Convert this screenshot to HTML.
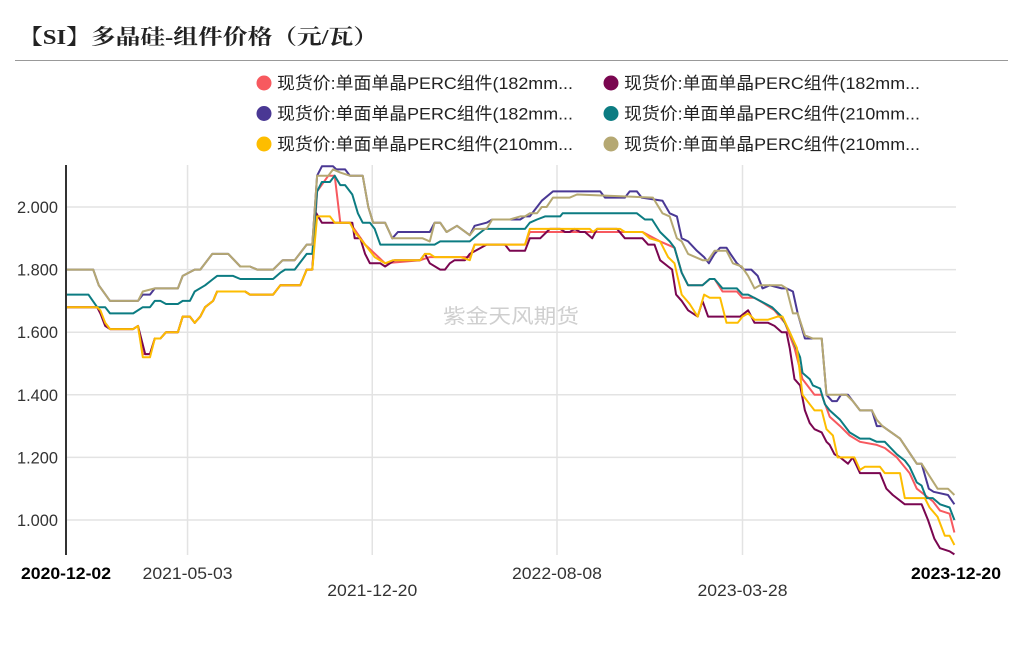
<!DOCTYPE html>
<html><head><meta charset="utf-8">
<style>
body{margin:0;background:#fff;width:1023px;height:645px;overflow:hidden;font-family:"Liberation Sans","Noto Sans CJK SC",sans-serif;}
.rule{position:absolute;left:15px;top:60px;width:993px;height:1px;background:#999;}
</style></head><body>
<div class="rule"></div>
<svg id="chart" width="1023" height="645" style="position:absolute;left:0;top:0">
<text x="18" y="44" font-size="21" font-weight="bold" fill="#222" textLength="360" lengthAdjust="spacingAndGlyphs" font-family="Liberation Serif, Noto Serif CJK SC, serif">【SI】多晶硅-组件价格（元/瓦）</text>
</svg>
<script>
const startDate = "2020-12-02";
const yTicks = [1.0, 1.2, 1.4, 1.6, 1.8, 2.0];
const xTickLabels = ["2020-12-02","2021-05-03","2021-12-20","2022-08-08","2023-03-28","2023-12-20"];
const seriesNames = ["现货价:单面单晶PERC组件(182mm...","现货价:单面单晶PERC组件(182mm...","现货价:单面单晶PERC组件(182mm...","现货价:单面单晶PERC组件(210mm...","现货价:单面单晶PERC组件(210mm...","现货价:单面单晶PERC组件(210mm..."];
const seriesColors = ["#f7595f","#7a0650","#4a3894","#0c7c82","#fdbd00","#b5a872"];
const redDays = [0,39,49,55,84,90,96,105,111,118,125,140,146,155,161,168,174,184,189,224,230,259,268,293,301,308,314,328,336,343,355,374,399,443,455,505,511,574,580,721,743,761,770,778,796,805,811,821,839,846,861,874,886,899,911,921,930,936,945,955,968,980,993,1014,1024,1039,1055,1064,1074,1084,1093,1105,1111];
const redVals = [1.68,1.68,1.63,1.61,1.61,1.62,1.53,1.53,1.58,1.58,1.60,1.60,1.65,1.65,1.63,1.65,1.68,1.70,1.73,1.73,1.72,1.72,1.75,1.75,1.80,1.80,2.05,2.10,2.10,1.95,1.95,1.88,1.82,1.83,1.84,1.84,1.88,1.88,1.92,1.92,1.89,1.87,1.79,1.75,1.75,1.77,1.77,1.73,1.73,1.71,1.71,1.69,1.67,1.63,1.55,1.45,1.42,1.40,1.40,1.33,1.30,1.27,1.25,1.24,1.23,1.20,1.15,1.10,1.08,1.06,1.03,1.02,0.96];
const plumDays = [0,39,43,49,55,84,90,99,105,111,118,125,140,146,155,161,168,174,184,189,224,230,259,268,293,301,308,313,320,358,361,368,374,380,393,399,411,443,449,455,468,474,480,486,499,505,526,549,555,574,580,593,605,618,624,630,636,643,649,658,664,689,699,721,728,736,743,753,758,763,770,778,790,796,803,843,853,861,878,886,895,901,905,911,918,924,930,936,945,951,955,961,968,978,984,993,1018,1026,1034,1049,1070,1078,1086,1093,1105,1111];
const plumVals = [1.68,1.68,1.66,1.62,1.61,1.61,1.62,1.53,1.53,1.58,1.58,1.60,1.60,1.65,1.65,1.63,1.65,1.68,1.70,1.73,1.73,1.72,1.72,1.75,1.75,1.80,1.80,1.98,1.95,1.95,1.90,1.90,1.85,1.82,1.82,1.81,1.83,1.83,1.85,1.82,1.80,1.80,1.82,1.83,1.83,1.85,1.88,1.88,1.86,1.86,1.90,1.90,1.93,1.93,1.92,1.92,1.93,1.92,1.92,1.90,1.93,1.93,1.90,1.90,1.88,1.88,1.83,1.81,1.80,1.72,1.70,1.67,1.65,1.70,1.65,1.65,1.67,1.63,1.63,1.62,1.60,1.60,1.55,1.45,1.43,1.35,1.31,1.29,1.28,1.25,1.24,1.21,1.20,1.18,1.20,1.15,1.15,1.10,1.08,1.05,1.05,1.00,0.94,0.91,0.90,0.89];
const indigoDays = [0,34,41,55,90,96,105,111,140,146,161,168,183,203,218,230,239,259,271,286,301,308,314,320,334,338,349,355,371,378,384,399,408,415,446,455,461,468,476,489,505,511,526,533,568,574,580,589,595,609,668,674,699,705,714,720,746,755,764,770,778,789,798,804,811,818,826,831,839,848,857,865,871,880,895,901,909,915,924,945,951,958,964,969,978,993,1008,1014,1021,1043,1064,1070,1079,1085,1103,1111];
const indigoVals = [1.80,1.80,1.75,1.70,1.70,1.72,1.72,1.74,1.74,1.78,1.80,1.80,1.85,1.85,1.81,1.81,1.80,1.80,1.83,1.83,1.88,1.88,2.10,2.13,2.13,2.12,2.12,2.10,2.10,2.00,1.95,1.95,1.90,1.92,1.92,1.92,1.95,1.95,1.92,1.94,1.91,1.94,1.95,1.96,1.96,1.97,1.97,2.00,2.02,2.05,2.05,2.03,2.03,2.05,2.05,2.03,2.02,1.98,1.97,1.90,1.89,1.86,1.84,1.82,1.85,1.87,1.87,1.85,1.82,1.80,1.80,1.78,1.74,1.75,1.74,1.74,1.73,1.66,1.58,1.58,1.40,1.38,1.38,1.40,1.40,1.35,1.35,1.30,1.30,1.26,1.18,1.18,1.10,1.09,1.08,1.05];
const tealDays = [0,28,39,49,55,84,96,105,111,118,125,140,146,155,161,174,184,189,209,218,259,268,274,286,301,308,314,320,330,336,343,349,358,365,371,380,386,393,461,468,505,514,524,574,580,589,599,618,621,714,724,733,743,755,761,770,778,796,805,811,821,839,846,853,868,883,895,905,918,921,930,934,943,949,955,968,980,993,1005,1014,1024,1039,1049,1055,1064,1070,1076,1084,1093,1105,1111];
const tealVals = [1.72,1.72,1.68,1.68,1.66,1.66,1.68,1.68,1.70,1.70,1.69,1.69,1.70,1.70,1.73,1.75,1.77,1.78,1.78,1.77,1.77,1.79,1.80,1.80,1.85,1.85,2.05,2.08,2.08,2.10,2.07,2.07,2.04,1.98,1.95,1.95,1.93,1.88,1.88,1.89,1.89,1.91,1.93,1.93,1.95,1.96,1.97,1.97,1.98,1.98,1.96,1.96,1.92,1.89,1.87,1.79,1.75,1.75,1.77,1.77,1.74,1.74,1.72,1.72,1.70,1.68,1.65,1.60,1.52,1.47,1.45,1.43,1.42,1.37,1.35,1.32,1.28,1.26,1.26,1.25,1.25,1.21,1.19,1.17,1.12,1.11,1.07,1.07,1.05,1.04,1.00];
const yellowDays = [0,39,43,49,55,84,90,96,105,111,118,125,140,146,155,161,168,174,184,189,224,230,259,268,293,301,308,314,330,336,355,361,374,386,399,409,443,449,455,461,493,505,511,574,580,655,659,664,693,699,721,730,743,753,761,770,780,790,798,805,818,826,840,846,853,861,878,890,896,905,914,921,930,936,945,951,959,965,986,993,999,1018,1024,1043,1049,1074,1080,1090,1099,1105,1111];
const yellowVals = [1.68,1.68,1.67,1.63,1.61,1.61,1.62,1.52,1.52,1.58,1.58,1.60,1.60,1.65,1.65,1.63,1.65,1.68,1.70,1.73,1.73,1.72,1.72,1.75,1.75,1.80,1.80,1.97,1.97,1.95,1.95,1.92,1.88,1.84,1.82,1.83,1.83,1.85,1.85,1.84,1.84,1.83,1.88,1.88,1.93,1.93,1.92,1.93,1.93,1.92,1.92,1.90,1.89,1.84,1.82,1.72,1.69,1.65,1.72,1.71,1.71,1.63,1.63,1.65,1.66,1.64,1.64,1.65,1.65,1.60,1.55,1.40,1.37,1.35,1.35,1.29,1.27,1.20,1.20,1.16,1.17,1.17,1.15,1.15,1.07,1.07,1.04,1.01,0.95,0.95,0.92];
const tanDays = [0,34,41,55,90,96,111,140,146,161,168,183,203,218,230,239,259,271,286,301,308,314,328,334,343,355,371,378,384,399,408,446,455,461,468,476,489,505,511,526,533,555,568,574,580,589,595,601,609,630,639,734,746,755,764,770,778,796,803,811,826,834,845,853,861,868,895,901,909,915,924,934,945,951,976,984,993,1008,1014,1021,1043,1064,1070,1090,1103,1111];
const tanVals = [1.80,1.80,1.75,1.70,1.70,1.73,1.74,1.74,1.78,1.80,1.80,1.85,1.85,1.81,1.81,1.80,1.80,1.83,1.83,1.88,1.88,2.10,2.10,2.12,2.11,2.10,2.10,2.00,1.95,1.95,1.90,1.90,1.89,1.95,1.95,1.92,1.94,1.91,1.93,1.93,1.96,1.96,1.97,1.97,1.98,1.98,2.00,2.00,2.03,2.03,2.04,2.03,1.98,1.97,1.90,1.89,1.85,1.83,1.83,1.86,1.86,1.82,1.81,1.78,1.74,1.75,1.75,1.74,1.66,1.66,1.59,1.58,1.58,1.40,1.40,1.38,1.35,1.35,1.32,1.30,1.26,1.18,1.18,1.10,1.10,1.08];

const svg = document.getElementById('chart');
const NS = 'http://www.w3.org/2000/svg';
const X0 = 66, X1 = 956, Y2 = 207, Y1 = 520, TOP = 165, BOT = 555;
const t0 = Date.parse(startDate + "T00:00:00Z");
const tEnd = Date.parse(xTickLabels[xTickLabels.length-1] + "T00:00:00Z");
const totalDays = (tEnd - t0) / 86400000;
function xScale(d){ return X0 + (X1 - X0) * d / totalDays; }
function yScale(v){ return Y2 + (2.0 - v) * (Y1 - Y2); }
function dayOf(s){ return (Date.parse(s + "T00:00:00Z") - t0) / 86400000; }
function mk(tag, attrs){ const e = document.createElementNS(NS, tag); for (const k in attrs) e.setAttribute(k, attrs[k]); svg.appendChild(e); return e; }

yTicks.forEach(v => {
  const g = mk('line', {x1:X0, x2:X1, y1:yScale(v), y2:yScale(v), stroke:'#e3e3e3', 'stroke-width':1.5});
  
  
  const t = mk('text', {x:58, y:yScale(v)+6, 'text-anchor':'end', 'font-size':16.5, fill:'#333', textLength:41, lengthAdjust:'spacingAndGlyphs'});
  t.textContent = v.toFixed(3);
  
  
});
xTickLabels.forEach((s, i) => {
  const x = xScale(dayOf(s));
  if (i > 0 && i < xTickLabels.length - 1) {
    const g = mk('line', {x1:x, x2:x, y1:TOP, y2:BOT, stroke:'#e3e3e3', 'stroke-width':1.5});
    
    
  }
  const bold = (i === 0 || i === xTickLabels.length - 1);
  const t = mk('text', {x:x, y:(i === 2 || i === 4) ? 596 : 579, 'text-anchor':'middle', 'font-size':16.5, fill: bold ? '#000' : '#333', 'font-weight': bold ? 'bold' : 'normal', textLength: bold ? 90 : 90, lengthAdjust:'spacingAndGlyphs'});
  t.textContent = s;
  
  
});
const wm = mk('text', {x:511, y:323, 'text-anchor':'middle', 'font-size':20, fill:'#cfcfcf', textLength:136, lengthAdjust:'spacingAndGlyphs'});
wm.textContent = '紫金天风期货';



const allDays = [redDays, plumDays, indigoDays, tealDays, yellowDays, tanDays];
const allVals = [redVals, plumVals, indigoVals, tealVals, yellowVals, tanVals];
const order = [0,1,3,2,4,5];
order.forEach(i => {
  const pts = allDays[i].map((d, j) => xScale(d).toFixed(1) + ',' + yScale(allVals[i][j]).toFixed(1)).join(' ');
  const p = mk('polyline', {points:pts, fill:'none', stroke:seriesColors[i], 'stroke-width':2, 'stroke-linejoin':'round'});
  
  
});
const ax = mk('line', {x1:X0, x2:X0, y1:TOP, y2:BOT, stroke:'#333', 'stroke-width':2});



seriesNames.forEach((n, i) => {
  const col = i % 2, row = Math.floor(i / 2);
  const mx = col === 0 ? 264 : 611, my = 83 + row * 30.5;
  const c = mk('circle', {cx:mx, cy:my, r:7.5, fill:seriesColors[i]});
  
  
  const t = mk('text', {x:mx+13, y:my+6, 'font-size':17, fill:'#222', textLength:296, lengthAdjust:'spacingAndGlyphs'});
  t.textContent = n;
  
  
});
</script>
</body></html>
